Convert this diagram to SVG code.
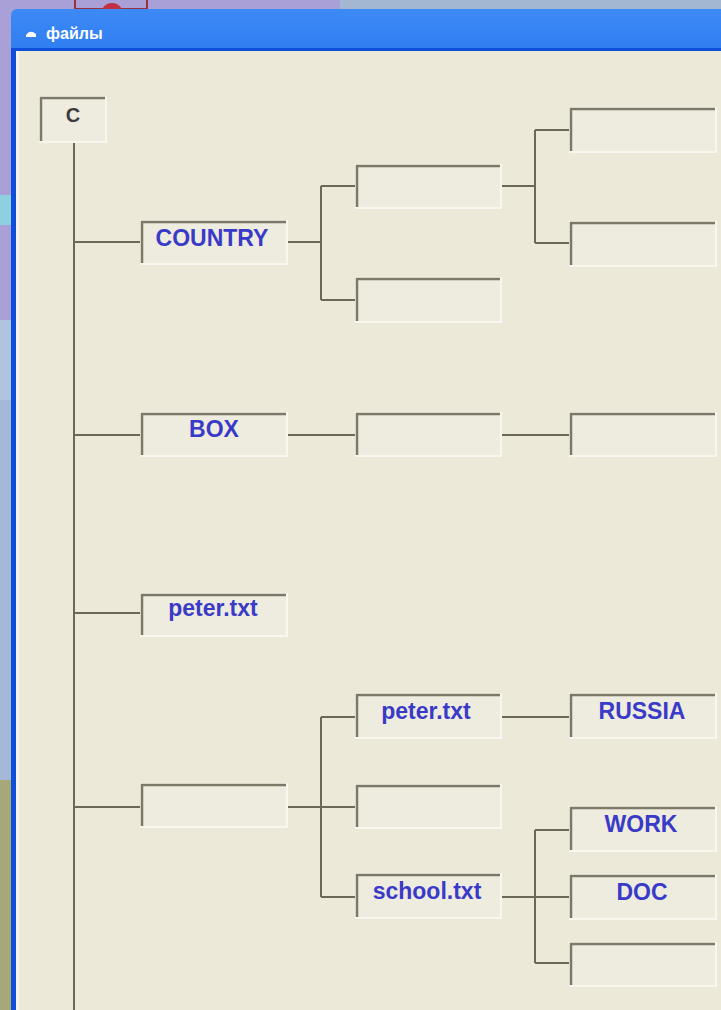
<svg xmlns="http://www.w3.org/2000/svg" width="721" height="1010" viewBox="0 0 721 1010">
<defs>
<linearGradient id="tb" x1="0" y1="0" x2="0" y2="1">
<stop offset="0" stop-color="#3d8af5"/>
<stop offset="0.15" stop-color="#0a5fe8"/>
<stop offset="0.6" stop-color="#0055e5"/>
<stop offset="0.85" stop-color="#0a62ea"/>
<stop offset="1" stop-color="#0040b8"/>
</linearGradient>
<style>
.box{fill:#eeebdf;stroke:#f8f6ee;stroke-width:2}
.edge{fill:none;stroke:#7d7969;stroke-width:2.5}
.con{fill:none;stroke:#6c6858;stroke-width:2}
.lbl{font-family:"Liberation Sans",Arial,sans-serif;font-weight:bold;font-size:23px;fill:#3a3ac8;text-anchor:middle}
.root{font-family:"Liberation Sans",Arial,sans-serif;font-weight:bold;font-size:20px;fill:#3c3c3c;text-anchor:middle}
</style>
</defs>
<!-- background behind window -->
<rect x="0" y="0" width="721" height="1010" fill="#a9a0d8"/>
<rect x="340" y="0" width="381" height="9" fill="#a3b6d2"/>
<rect x="75" y="-2" width="72" height="11" fill="#a9a0d8" stroke="#9a3040" stroke-width="2"/>
<circle cx="112" cy="14" r="11" fill="#c03040"/>
<rect x="0" y="195" width="11" height="30" fill="#8fd0e0"/>
<rect x="0" y="320" width="11" height="80" fill="#b0c4e0"/>
<rect x="0" y="400" width="11" height="380" fill="#a4b8d8"/>
<rect x="0" y="780" width="11" height="230" fill="#a6a878"/>
<!-- window -->
<rect x="11" y="9" width="720" height="1010" rx="6" fill="url(#tb)"/>
<rect x="11" y="48" width="710" height="962" fill="#0d4fd8"/>
<rect x="16" y="51" width="705" height="959" fill="#ece9d8"/>
<rect x="16" y="51" width="3" height="959" fill="#f6f4ea"/>
<path d="M26 35 q4 -6 10 -1 l0 3 l-10 0 z" fill="#ffffff"/>
<text x="46" y="39" font-family="Liberation Sans,Arial,sans-serif" font-weight="bold" font-size="16" fill="#ffffff">файлы</text>
<!-- connectors -->
<g id="connectors">
<path class="con" d="M74 143 V1010"/>
<path class="con" d="M74 242 H141 M74 435 H141 M74 613 H141 M74 807 H141"/>
<path class="con" d="M288 242 H321 M321 186 V300 M321 186 H356 M321 300 H356"/>
<path class="con" d="M501 186 H535 M535 130 V243 M535 130 H570 M535 243 H570"/>
<path class="con" d="M288 435 H356 M501 435 H570"/>
<path class="con" d="M288 807 H356 M321 717 V897 M321 717 H356 M321 897 H356"/>
<path class="con" d="M501 717 H570"/>
<path class="con" d="M501 897 H570 M535 830 V963 M535 830 H570 M535 963 H570"/>
</g>
<!-- nodes -->
<g id="n-root"><rect class="box" x="40" y="97" width="66" height="45"/><path class="edge" d="M41 141 V98 H105"/><text class="root" x="73" y="122">C</text></g>
<g id="n-country"><rect class="box" x="141" y="221" width="146" height="43"/><path class="edge" d="M142 263 V222 H286"/><text class="lbl" x="212" y="246">COUNTRY</text></g>
<g id="n-box"><rect class="box" x="141" y="413" width="146" height="43"/><path class="edge" d="M142 455 V414 H286"/><text class="lbl" x="214" y="437">BOX</text></g>
<g id="n-peter1"><rect class="box" x="141" y="594" width="146" height="42"/><path class="edge" d="M142 635 V595 H286"/><text class="lbl" x="213" y="616">peter.txt</text></g>
<g id="n-empty1"><rect class="box" x="141" y="784" width="146" height="43"/><path class="edge" d="M142 826 V785 H286"/></g>
<g id="n-c1"><rect class="box" x="356" y="165" width="145" height="43"/><path class="edge" d="M357 207 V166 H500"/></g>
<g id="n-c2"><rect class="box" x="356" y="278" width="145" height="44"/><path class="edge" d="M357 321 V279 H500"/></g>
<g id="n-c1a"><rect class="box" x="570" y="108" width="146" height="44"/><path class="edge" d="M571 151 V109 H715"/></g>
<g id="n-c1b"><rect class="box" x="570" y="222" width="146" height="44"/><path class="edge" d="M571 265 V223 H715"/></g>
<g id="n-b1"><rect class="box" x="356" y="413" width="145" height="43"/><path class="edge" d="M357 455 V414 H500"/></g>
<g id="n-b2"><rect class="box" x="570" y="413" width="146" height="43"/><path class="edge" d="M571 455 V414 H715"/></g>
<g id="n-peter2"><rect class="box" x="356" y="694" width="145" height="44"/><path class="edge" d="M357 737 V695 H500"/><text class="lbl" x="426" y="719">peter.txt</text></g>
<g id="n-empty2"><rect class="box" x="356" y="785" width="145" height="43"/><path class="edge" d="M357 827 V786 H500"/></g>
<g id="n-school"><rect class="box" x="356" y="874" width="145" height="44"/><path class="edge" d="M357 917 V875 H500"/><text class="lbl" x="427" y="899">school.txt</text></g>
<g id="n-russia"><rect class="box" x="570" y="694" width="146" height="44"/><path class="edge" d="M571 737 V695 H715"/><text class="lbl" x="642" y="719">RUSSIA</text></g>
<g id="n-work"><rect class="box" x="570" y="807" width="146" height="44"/><path class="edge" d="M571 850 V808 H715"/><text class="lbl" x="641" y="832">WORK</text></g>
<g id="n-doc"><rect class="box" x="570" y="875" width="146" height="44"/><path class="edge" d="M571 918 V876 H715"/><text class="lbl" x="642" y="900">DOC</text></g>
<g id="n-empty3"><rect class="box" x="570" y="943" width="146" height="43"/><path class="edge" d="M571 985 V944 H715"/></g>
</svg>
